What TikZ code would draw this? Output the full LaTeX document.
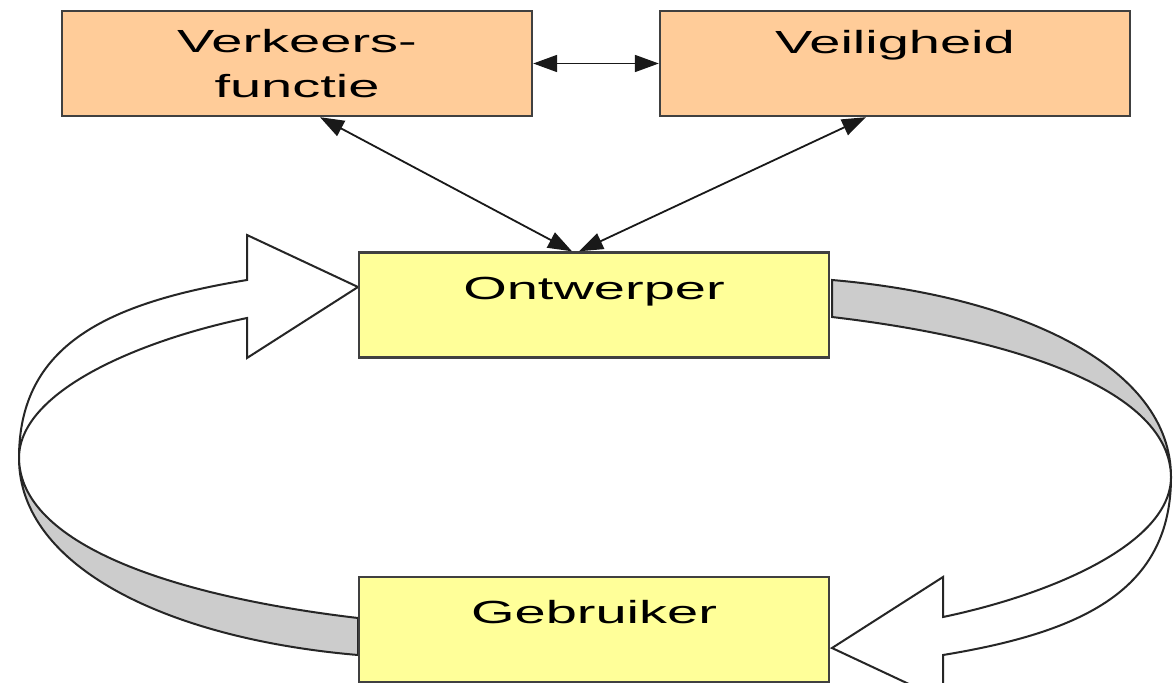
\documentclass[tikz,border=0pt]{standalone}
\usepackage{fontspec}
\newfontfamily\boxfont[FakeStretch=1.75]{Liberation Sans}
\usetikzlibrary{arrows.meta}
\definecolor{boxorange}{HTML}{FFCC99}
\definecolor{boxyellow}{HTML}{FFFF99}
\definecolor{ribbongray}{HTML}{CCCCCC}
\definecolor{boxline}{HTML}{404040}
\newcommand\ribbonpaths{%
  \filldraw[fill=white, ribbonline] (247,280) .. controls (107,303) and (19,345) .. (19,458)
     .. controls (19,392) and (137,341) .. (247,318) -- (247,358) -- (358,287) -- (247,235) -- cycle;
  \filldraw[fill=ribbongray, ribbonline] (19,458) .. controls (19,568) and (170,639) .. (358,655)
     -- (358,618) .. controls (171,596) and (20,544) .. (19,458) -- cycle;
}
\begin{document}
\begin{tikzpicture}[x=1pt,y=-1pt,
  ribbonline/.style={draw=black!85, line width=2pt, line join=miter},
  boxstyle/.style={draw=boxline, line width=2.4pt, minimum width=470pt, minimum height=105pt,
     inner sep=0pt, align=center, font=\boxfont\fontsize{32}{45}\selectfont},
  dblarrow/.style={line width=1.8pt, draw=black!90, {Triangle[length=24pt,width=17pt]}-{Triangle[length=24pt,width=17pt]}}]
\clip (0,0) rectangle (1174,682);
\fill[white] (0,0) rectangle (1174,682);
\ribbonpaths
\begin{scope}[rotate around={180:(595,467.5)}]
\ribbonpaths
\end{scope}
\node[boxstyle, fill=boxorange] (vf) at (297,63.5) {Verkeers-\\functie};
\node[boxstyle, fill=boxorange, text height=24pt, text depth=43pt] (vh) at (895,63.5) {Veiligheid};
\node[boxstyle, fill=boxyellow, text height=24pt, text depth=36pt] (ow) at (594,305) {Ontwerper};
\node[boxstyle, fill=boxyellow, text height=24pt, text depth=36pt] (gb) at (594,629.5) {Gebruiker};
\draw[dblarrow] (vf.east) -- (vh.west);
\draw[dblarrow] ([xshift=23pt]vf.south) -- ([xshift=-22pt]ow.north);
\draw[dblarrow] ([xshift=-29pt]vh.south) -- ([xshift=-15pt]ow.north);
\end{tikzpicture}
\end{document}
